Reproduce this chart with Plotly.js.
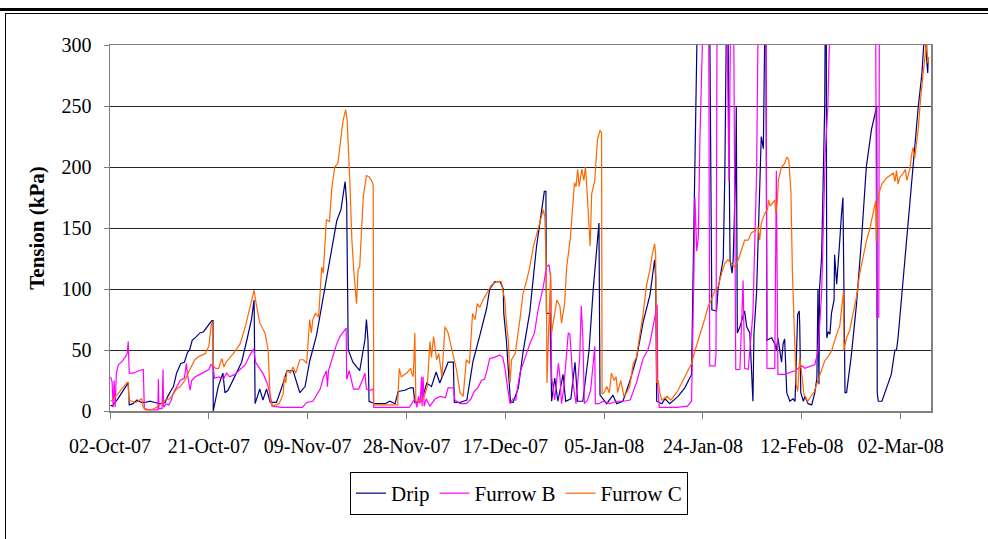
<!DOCTYPE html>
<html>
<head>
<meta charset="utf-8">
<script src="https://cdn.plot.ly/plotly-3.0.1.min.js"></script>
<style>
  html, body { margin: 0; padding: 0; background: #ffffff; }
  #chart { width: 988px; height: 539px; }
</style>
</head>
<body>
<div id="chart"></div>
<script>
// Soil water tension readings, Oct 2007 - Mar 2008.
// Time is stored as days elapsed since 02-Oct-07; tension in kPa.
const startDate = Date.UTC(2007, 9, 2);

const dripDay = [0.1,0.44,1.5,2.5,3.5,3.7,4.4,5.2,6.0,6.7,7.7,8.6,9.6,10.6,11.1,11.9,12.2,12.8,13.6,14.3,14.9,15.3,15.8,16.6,17.3,18.0,18.6,19.2,19.6,19.8,19.85,20.4,20.8,21.7,22.1,22.7,23.4,24.2,25.3,26.3,27.2,27.7,27.9,28.8,29.4,30.1,30.8,32.0,33.0,34.0,35.2,36.5,37.5,38.4,39.7,41.6,43.6,44.4,45.2,45.5,45.8,46.7,48.0,49.0,49.3,49.6,49.8,50.9,52.9,53.8,54.8,55.4,56.7,57.7,58.3,58.6,59.9,60.9,61.8,62.7,63.4,65.0,66.0,66.2,67.3,68.6,69.8,71.1,72.4,73.0,74.0,75.0,75.6,75.7,76.2,77.0,77.5,78.5,79.4,80.7,82.0,83.5,83.8,83.9,84.6,84.9,85.5,86.1,87.1,87.6,88.6,89.4,89.9,90.9,92.1,92.9,94.0,94.2,95.5,96.7,97.4,98.6,99.9,101.2,102.5,103.8,104.7,104.9,105.1,106.1,106.7,107.6,109.2,110.5,111.8,112.1,112.8,112.9,115.3,115.7,116.6,116.9,117.9,118.2,118.5,118.8,119.2,119.6,119.8,120.3,120.4,120.6,121.1,122.0,122.4,123.0,123.6,123.8,124.3,124.6,124.9,125.2,125.6,125.9,126.1,126.3,127.2,127.8,128.1,128.4,129.1,129.4,129.7,130.1,130.7,131.3,131.7,132.2,132.5,132.6,132.8,133.3,133.6,134.2,134.9,135.5,135.9,136.1,136.3,136.4,136.8,137.1,137.4,137.5,137.7,137.8,138.1,138.4,138.7,139.2,139.3,139.7,140.0,140.3,140.6,140.9,141.1,141.3,141.6,142.5,143.5,144.5,145.4,146.4,147.0,147.4,147.5,147.7,148.4,149.0,150.2,150.9,151.2,151.5,152.5,153.4,154.4,155.4,156.1,156.5,156.8,157.2,157.3];
const dripKPa = [5,4,10,17,23,5,6,9,7,7,8,7,6,7,12,18,20,31,39,40,48,50,58,61,64,65,69,72,74,74,0,10,20,31,15,17,23,30,40,58,75,91,6,18,9,18,7,7,19,33,33,15,20,41,62,108,156,165,188,170,50,40,33,58,75,58,8,6,6,8,6,16,17,19,19,7,8,23,20,32,23,40,40,7,7,9,41,62,84,100,106,106,100,80,58,7,7,19,48,81,135,180,180,80,80,8,27,8,30,8,10,40,8,8,50,100,154,13,6,13,6,8,24,43,73,95,124,110,8,6,10,6,12,19,30,113,290,320,320,83,82,100,125,195,320,320,124,113,124,200,250,64,69,82,69,64,8,64,97,140,200,225,215,320,320,58,60,55,50,60,40,55,59,15,8,10,8,79,82,70,15,8,12,6,5,15,27,100,22,100,126,188,250,320,320,60,65,63,80,91,128,104,120,140,160,175,99,15,15,45,87,142,200,231,242,250,15,8,8,15,30,50,50,60,110,152,203,250,277,305,300,277,290];

const furrowBDay = [0.1,0.4,0.6,0.8,1.0,1.2,1.6,2.2,2.9,3.3,3.5,3.6,3.7,4.5,5.5,6.4,6.6,7.5,8.5,9.2,9.3,9.4,10.0,10.2,10.3,10.8,11.3,11.7,12.2,12.8,13.5,14.3,14.7,14.9,15.4,15.7,16.4,17.3,18.3,19.0,19.4,19.8,20.1,21.0,21.8,22.4,23.0,24.0,25.0,26.0,26.8,27.6,28.0,28.7,29.5,30.2,30.7,31.2,33.0,35.0,37.0,37.8,39.0,40.4,41.0,41.6,41.8,42.0,42.9,43.5,44.2,45.4,45.5,46.0,46.8,47.8,48.5,49.0,49.3,50.0,50.6,50.7,52.0,55.0,57.5,58.0,58.6,59.0,59.3,59.6,59.9,60.0,60.2,60.4,60.8,61.5,62.5,63.5,64.5,65.0,66.0,66.3,67.3,68.5,69.4,70.0,70.7,71.4,72.0,72.4,73.0,73.9,74.9,75.5,75.9,76.3,76.6,76.9,77.5,78.0,78.8,79.4,80.1,80.7,81.6,82.3,83.3,83.9,84.4,84.7,84.9,85.2,85.5,86.2,86.5,86.8,87.2,88.1,88.4,88.7,89.0,89.6,90.3,90.6,90.9,91.2,91.8,92.4,93.2,93.3,94.0,94.8,96.1,97.4,98.7,100.0,101.2,102.5,103.4,103.8,104.4,104.8,105.2,105.3,105.6,107.0,109.0,111.0,111.8,112.25,112.45,112.8,113.1,113.4,114.0,115.1,115.3,116.3,116.5,116.7,118.6,119.0,119.3,119.9,120.3,121.1,121.7,122.0,122.7,123.6,124.3,124.6,126.1,126.3,127.8,128.1,128.4,129.7,131.7,133.0,133.6,135.5,136.1,136.8,137.5,138.0,138.4,147.2,147.4,147.8,147.9,157.5];
const furrowBKPa = [28,24,3,25,3,30,38,40,44,47,57,47,31,31,33,34,2,1,1,1,26,2,2,34,3,6,5,8,15,20,25,27,39,30,17,25,28,30,32,34,38,37,27,28,26,31,28,30,34,38,45,51,40,35,30,23,15,4,3,3,3,7,8,18,27,33,20,33,45,54,61,68,26,33,18,18,25,31,18,17,18,3,3,3,3,6,10,3,12,6,28,4,28,4,10,4,10,12,11,19,19,9,6,6,10,16,19,25,26,32,43,44,46,44,36,23,14,6,10,9,31,39,48,55,64,83,102,118,120,110,28,17,9,39,28,6,17,64,63,45,23,6,44,86,61,6,9,17,53,6,6,8,6,8,8,9,23,43,50,56,70,80,87,19,3,3,3,4,8,112,175,131,142,221,320,320,37,37,46,320,320,188,320,320,34,34,107,35,34,80,194,320,320,35,35,197,30,30,33,37,35,38,49,96,210,249,320,320,77,77,320,320];

const furrowCDay = [0.1,0.5,1.5,2.5,3.0,3.5,3.6,4.2,5.0,5.7,6.1,6.4,6.8,7.8,8.6,9.3,9.9,10.6,11.5,12.2,12.8,13.5,14.4,15.0,15.6,16.3,17.2,18.3,19.0,19.5,19.7,19.9,20.3,20.9,21.5,21.9,22.3,23.7,25.0,26.0,26.9,27.7,28.1,28.8,29.8,30.4,30.8,31.2,32.5,33.3,33.5,33.8,34.0,34.7,35.2,35.7,36.5,37.2,37.8,38.4,38.7,39.0,39.5,40.1,40.7,41.0,41.6,42.2,42.6,43.2,43.8,44.2,44.8,45.3,45.6,46.1,46.5,46.9,47.4,47.7,48.0,48.7,49.3,49.8,50.4,50.6,50.7,52.0,54.0,55.3,55.6,56.0,57.0,57.8,58.0,58.3,58.6,58.8,59.8,60.4,61.0,61.5,61.8,62.2,62.8,63.2,63.8,64.4,65.0,65.6,66.6,67.3,67.9,68.5,69.1,69.7,70.2,70.6,71.1,71.7,72.4,73.3,74.3,75.2,75.9,76.2,76.6,76.9,77.2,77.9,78.8,79.4,80.1,80.7,81.4,82.4,83.0,83.3,83.6,83.9,84.0,84.4,84.7,84.9,85.3,85.9,86.5,86.8,87.4,87.8,88.5,89.0,89.3,89.6,89.9,90.2,90.7,91.1,91.4,91.7,92.0,92.3,92.6,93.2,93.7,94.2,94.5,94.6,95.0,95.5,96.0,96.4,96.9,97.3,97.6,98.2,98.8,99.3,99.9,100.6,101.2,101.9,102.5,103.1,103.8,104.2,104.7,104.9,105.1,105.4,105.7,106.1,107.1,107.8,108.4,108.9,109.2,109.9,110.5,111.2,111.8,112.5,113.1,113.7,114.3,115.0,115.6,116.3,116.9,117.6,118.2,118.8,119.5,120.1,120.8,121.4,122.0,122.7,123.3,124.0,124.6,124.9,125.2,125.9,126.4,126.6,126.9,127.8,128.0,128.3,128.5,128.8,129.1,129.7,130.1,130.5,130.9,131.2,131.6,131.9,132.2,132.6,133.0,133.4,134.1,134.7,135.4,136.1,136.8,137.4,138.1,138.7,139.7,140.3,141.0,141.1,141.6,142.2,142.8,143.5,144.1,144.8,145.4,146.1,146.7,147.2,147.3,147.5,147.8,148.4,149.3,150.0,150.6,150.9,151.2,151.5,151.8,152.5,152.9,153.2,153.8,154.1,154.4,154.7,155.1,155.4,155.8,156.2,156.6,157.0,157.2,157.4];
const furrowCKPa = [8,9,14,20,22,24,9,8,7,9,10,3,1,1,2,4,6,9,10,14,18,20,25,31,36,42,45,47,53,72,72,37,35,35,43,36,40,47,55,69,85,99,88,72,64,50,9,4,6,14,28,23,33,31,36,31,42,42,39,75,64,75,80,77,118,113,157,155,181,200,203,219,238,247,238,189,140,113,88,116,118,176,193,192,188,185,5,5,5,5,35,28,31,35,31,28,64,8,8,12,20,57,44,61,42,47,28,69,64,53,34,15,12,42,39,80,75,88,85,91,96,103,106,106,91,72,57,23,42,47,75,96,107,118,135,151,162,165,159,113,23,85,113,64,75,91,86,72,88,118,142,173,187,184,198,184,198,189,200,181,162,135,178,189,222,230,228,14,15,20,15,31,25,28,15,25,12,15,20,39,44,64,80,102,116,127,137,129,23,25,15,9,12,9,12,15,17,23,28,34,39,50,58,66,75,86,91,99,102,113,121,124,121,118,124,132,140,140,146,148,151,140,154,162,165,173,168,173,162,173,189,195,200,203,208,206,180,112,57,22,16,44,30,14,8,12,16,25,33,41,45,49,63,70,98,50,60,66,79,93,112,126,139,150,161,172,139,165,178,186,191,193,195,188,197,186,191,195,198,189,199,210,216,207,221,232,254,270,287,305,285,290];

const seriesNames = ['Drip', 'Furrow B', 'Furrow C'];
const seriesColors = ['#000080', '#FF00FF', '#FF6600'];
const tickStep = 19; // days between date labels

function toDates(days) {
  return days.map(d => {
    const t = new Date(startDate + d * 86400000);
    return t.toISOString().slice(0, 19).replace('T', ' ');
  });
}

const serif = "'Liberation Serif', 'Times New Roman', Times, serif";

const traces = [
  [dripDay, dripKPa],
  [furrowBDay, furrowBKPa],
  [furrowCDay, furrowCKPa]
].map((s, i) => ({
  type: 'scatter',
  mode: 'lines',
  name: seriesNames[i],
  x: toDates(s[0]),
  y: s[1],
  line: { color: seriesColors[i], width: 1.2 },
  hoverinfo: 'skip'
}));

// plot area: 110..931 px horizontally, 45..411 px vertically
const W = 988, H = 539, L = 110, R = 57, T = 45, B = 128;
const pw = W - L - R, ph = H - T - B;
const px = x => (x - L) / pw;
const py = y => (H - B - y) / ph;

const layout = {
  width: W,
  height: H,
  margin: { l: L, r: R, t: T, b: B, pad: 0 },
  paper_bgcolor: '#ffffff',
  plot_bgcolor: '#ffffff',
  font: { family: serif, color: '#000000', size: 19 },
  showlegend: true,
  legend: {
    orientation: 'h',
    x: px(519), xanchor: 'center',
    y: py(472), yanchor: 'top',
    bgcolor: '#ffffff',
    bordercolor: '#000000',
    borderwidth: 1,
    font: { family: serif, size: 21, color: '#000000' },
    itemwidth: 30,
    traceorder: 'normal'
  },
  xaxis: {
    type: 'date',
    range: ['2007-10-02 00:00:00', '2008-03-07 20:00:00'],
    tick0: '2007-10-02',
    dtick: tickStep * 86400000,
    tickformat: '%d-%b-%y',
    ticks: 'outside',
    ticklen: 6,
    tickcolor: '#808080',
    ticklabelstandoff: 10,
    showgrid: false,
    zeroline: false,
    showline: true,
    mirror: true,
    linecolor: '#808080',
    linewidth: 1.5,
    tickfont: { family: serif, size: 20, color: '#000000' }
  },
  yaxis: {
    range: [0, 300],
    dtick: 50,
    ticks: 'outside',
    ticklen: 5,
    tickcolor: '#808080',
    ticklabelstandoff: 8,
    showgrid: true,
    gridcolor: '#262626',
    gridwidth: 1,
    zeroline: false,
    showline: true,
    mirror: true,
    linecolor: '#808080',
    linewidth: 1.5,
    tickfont: { family: serif, size: 20, color: '#000000' },
    title: {
      text: '<b>Tension (kPa)</b>',
      font: { family: serif, size: 21, color: '#000000' },
      standoff: 11
    }
  },
  shapes: [
    // outer frame: heavy rule and thin inner border
    { type: 'line', xref: 'paper', yref: 'paper', x0: px(0), x1: px(W), y0: py(9.5), y1: py(9.5),
      line: { color: '#000000', width: 3 } },
    { type: 'line', xref: 'paper', yref: 'paper', x0: px(5), x1: px(W), y0: py(13.5), y1: py(13.5),
      line: { color: '#000000', width: 1 } },
    { type: 'line', xref: 'paper', yref: 'paper', x0: px(5.5), x1: px(5.5), y0: py(13.5), y1: py(H),
      line: { color: '#000000', width: 1 } }
  ]
};

Plotly.newPlot('chart', traces, layout, { staticPlot: true, displayModeBar: false });
</script>
</body>
</html>
